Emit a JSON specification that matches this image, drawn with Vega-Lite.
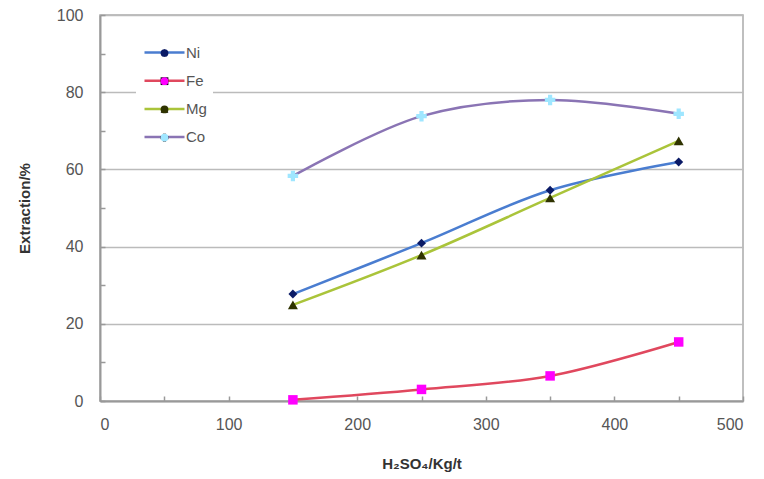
{
  "$schema": "https://vega.github.io/schema/vega-lite/v6.json",
  "width": 643,
  "height": 386,
  "autosize": {"type": "none"},
  "padding": {"left": 100, "top": 15, "right": 21, "bottom": 78},
  "background": "white",
  "config": {
    "view": {"stroke": "#aaaaaa", "strokeWidth": 1.5},
    "font": "Liberation Sans",
    "axis": {"labelFont": "Liberation Sans", "titleFont": "Liberation Sans"}
  },
  "data": {"values": [
    {"series": "Ni", "marker": "Ni", "x": 150, "y": 27.7},
    {"series": "Ni", "marker": "Ni", "x": 250, "y": 40.9},
    {"series": "Ni", "marker": "Ni", "x": 350, "y": 54.6},
    {"series": "Ni", "marker": "Ni", "x": 450, "y": 61.9},
    {"series": "Fe", "marker": "Fe", "x": 150, "y": 0.3},
    {"series": "Fe", "marker": "Fe", "x": 250, "y": 3.0},
    {"series": "Fe", "marker": "Fe", "x": 350, "y": 6.5},
    {"series": "Fe", "marker": "Fe", "x": 450, "y": 15.3},
    {"series": "Mg", "marker": "Mg", "x": 150, "y": 24.9},
    {"series": "Mg", "marker": "Mg", "x": 250, "y": 37.8},
    {"series": "Mg", "marker": "Mg", "x": 350, "y": 52.6},
    {"series": "Mg", "marker": "Mg", "x": 450, "y": 67.4},
    {"series": "Co", "marker": "Co", "x": 150, "y": 58.3},
    {"series": "Co", "marker": "Co", "x": 250, "y": 73.8},
    {"series": "Co", "marker": "Co", "x": 350, "y": 78.0},
    {"series": "Co", "marker": "Co", "x": 450, "y": 74.4}
  ]},
  "encoding": {
    "x": {
      "field": "x", "type": "quantitative",
      "scale": {"domain": [0, 500], "nice": false},
      "axis": {
        "values": [0, 50, 100, 150, 200, 250, 300, 350, 400, 450, 500],
        "labelExpr": "datum.value % 100 == 0 ? datum.label : ''",
        "grid": false,
        "domainColor": "#999999", "domainWidth": 2,
        "tickColor": "#999999", "tickSize": -5, "tickWidth": 1.5,
        "labelFontSize": 16, "labelColor": "#555555", "labelPadding": 20,
        "title": "H₂SO₄/Kg/t", "titleFontSize": 15, "titleFontWeight": "bold",
        "titleColor": "#333333", "titlePadding": 24
      }
    },
    "y": {
      "field": "y", "type": "quantitative",
      "scale": {"domain": [0, 100], "nice": false},
      "axis": {
        "values": [0, 10, 20, 30, 40, 50, 60, 70, 80, 90, 100],
        "labelExpr": "datum.value % 20 == 0 ? datum.label : ''",
        "grid": true,
        "gridColor": "#bbbbbb", "gridWidth": 1.5,
        "gridOpacity": {"condition": {"test": "datum.value % 20 != 0", "value": 0}, "value": 1},
        "domainColor": "#999999", "domainWidth": 2,
        "tickColor": "#999999", "tickSize": -5, "tickWidth": 1.5,
        "labelFontSize": 16, "labelColor": "#555555", "labelPadding": 22,
        "title": "Extraction/%", "titleFontSize": 15, "titleFontWeight": "bold",
        "titleColor": "#333333", "titlePadding": 24
      }
    }
  },
  "layer": [
    {
      "mark": {"type": "line", "interpolate": "catmull-rom", "strokeWidth": 2.5},
      "encoding": {
        "color": {
          "field": "series", "type": "nominal",
          "scale": {"domain": ["Ni", "Fe", "Mg", "Co"], "range": ["#4a7dd0", "#e0485e", "#aac43a", "#8a74b4"]},
          "legend": {
            "title": null, "orient": "none", "legendX": 36, "legendY": 24,
            "symbolType": "M-1,0H7", "symbolSize": 100, "symbolStrokeWidth": 2.5,
            "labelFontSize": 15, "labelColor": "#555555", "labelFont": "Liberation Sans",
            "labelOffset": 29,
            "fillColor": "white", "padding": 6, "rowPadding": 12.2, "zindex": 1
          }
        }
      }
    },
    {
      "mark": {"type": "point", "filled": true, "opacity": 1},
      "encoding": {
        "fill": {
          "field": "marker", "type": "nominal",
          "sort": ["Ni", "Fe", "Mg", "Co"],
          "scale": {"range": ["#0a1a66", "#ff00ff", "#2f3300", "#9fe6ff"]},
          "legend": {
            "title": null, "orient": "none", "legendX": 51, "legendY": 24.5,
            "symbolSize": 60, "symbolStrokeWidth": 0,
            "labelFontSize": 15, "labelColor": "rgba(0,0,0,0)", "labelFont": "Liberation Sans",
            "labelOffset": 6,
            "padding": 6, "rowPadding": 12.2, "zindex": 2
          }
        },
        "shape": {
          "field": "marker", "type": "nominal",
          "sort": ["Ni", "Fe", "Mg", "Co"],
          "scale": {"range": ["diamond", "square", "triangle-up", "cross"]},
          "legend": {
            "title": null, "orient": "none", "legendX": 51, "legendY": 24.5,
            "symbolSize": 60, "symbolStrokeWidth": 0,
            "labelFontSize": 15, "labelColor": "rgba(0,0,0,0)", "labelFont": "Liberation Sans",
            "labelOffset": 6,
            "padding": 6, "rowPadding": 12.2, "zindex": 2
          }
        },
        "size": {
          "field": "marker", "type": "nominal",
          "sort": ["Ni", "Fe", "Mg", "Co"],
          "scale": {"range": [80, 110, 35, 30]},
          "legend": null
        }
      }
    }
  ]
}
